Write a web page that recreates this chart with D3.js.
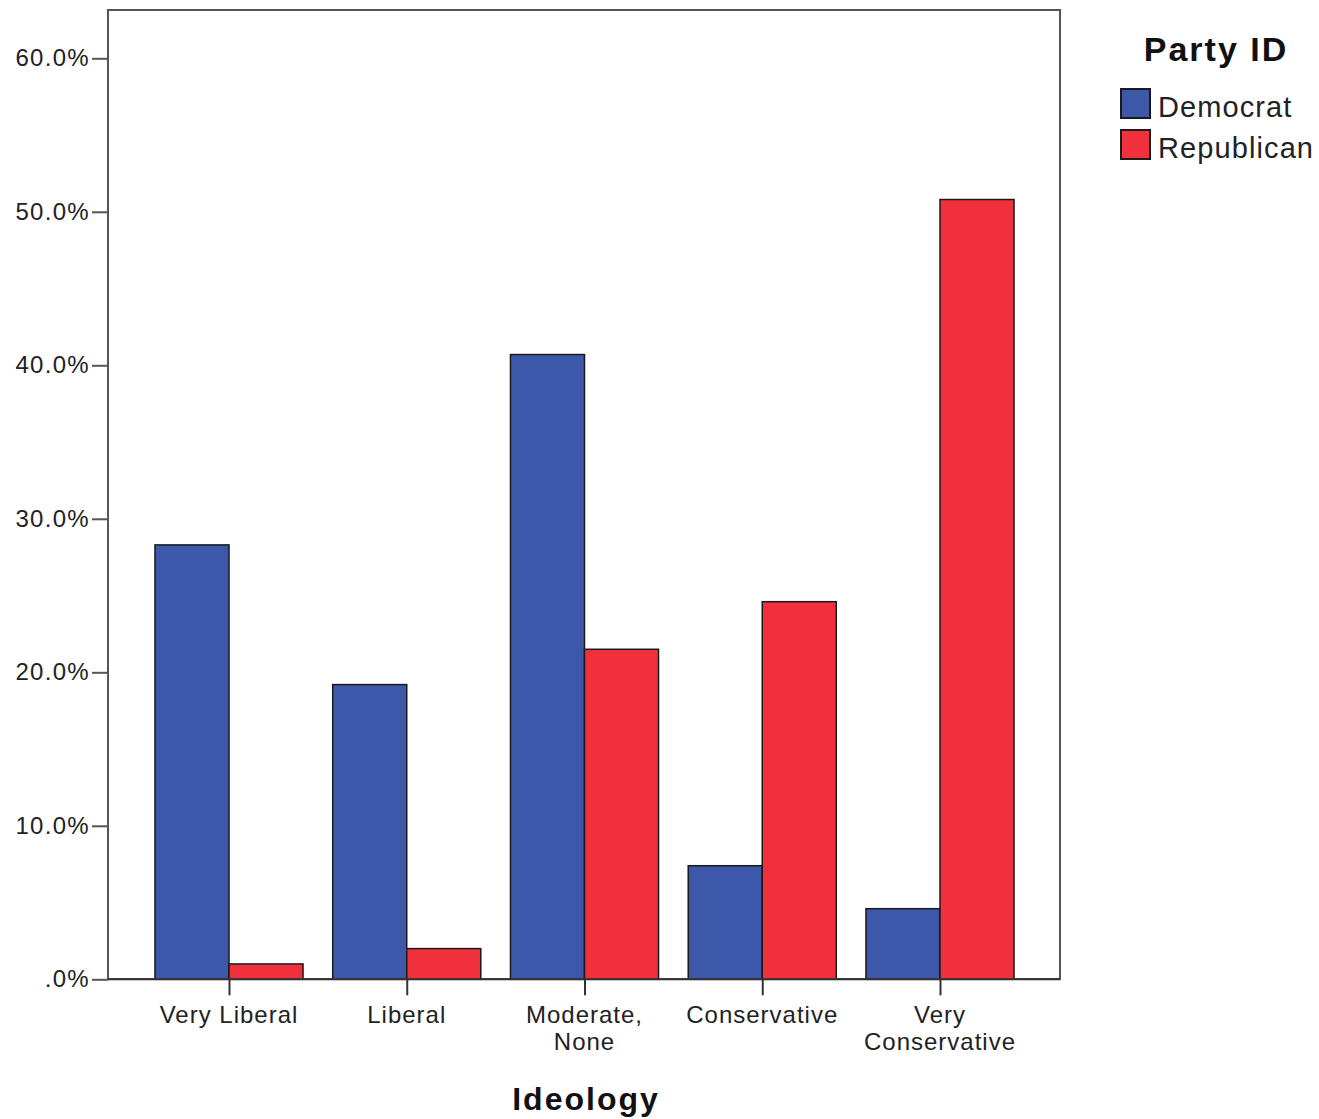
<!DOCTYPE html>
<html><head><meta charset="utf-8">
<script src="https://cdn.jsdelivr.net/npm/d3@7"></script>
<style>body{margin:0;background:#fff;} text{font-family:Arial,"Liberation Sans",sans-serif;}</style>
</head><body>
<svg id="chart" width="1319" height="1119"></svg>
<script>
const categories = [["Very Liberal"], ["Liberal"], ["Moderate,", "None"], ["Conservative"], ["Very", "Conservative"]];
const seriesNames = ["Democrat", "Republican"];
const democrat = [28.3, 19.2, 40.7, 7.4, 4.6];
const republican = [1.0, 2.0, 21.5, 24.6, 50.8];
const yTicks = [0, 10, 20, 30, 40, 50, 60];
const yTickLabels = [".0%", "10.0%", "20.0%", "30.0%", "40.0%", "50.0%", "60.0%"];
const colors = ["#3d58ab", "#f0313b"];

const svg = d3.select("#chart");
const frame = {left: 108, right: 1060, top: 10, bottom: 979};

const y = d3.scaleLinear().domain([0, 60]).range([979.3, 58.3]);
const step = 177.75;
const x = d3.scaleBand().domain(d3.range(categories.length))
  .range([229 - step/2, 940 + step/2]).paddingInner(0.167).paddingOuter(0.0835);
const xs = d3.scaleBand().domain([0, 1]).range([0, x.bandwidth()]);

// frame
svg.append("rect").attr("x", frame.left).attr("y", frame.top)
  .attr("width", frame.right - frame.left).attr("height", frame.bottom - frame.top)
  .attr("fill", "none").attr("stroke", "#555").attr("stroke-width", 2);

// bars
const data = [democrat, republican];
data.forEach((vals, s) => {
  svg.append("g").selectAll("rect").data(vals).join("rect")
    .attr("x", (d, i) => x(i) + xs(s))
    .attr("y", d => y(d))
    .attr("width", xs.bandwidth())
    .attr("height", d => y(0) - y(d))
    .attr("fill", colors[s]).attr("stroke", "#1a1a1a").attr("stroke-width", 1.5);
});

// baseline
svg.append("line").attr("x1", frame.left).attr("x2", frame.right)
  .attr("y1", y(0)).attr("y2", y(0)).attr("stroke", "#333").attr("stroke-width", 2);

// y axis
const yAxis = d3.axisLeft(y).tickValues(yTicks).tickFormat((d, i) => yTickLabels[i]).tickSize(16).tickPadding(2);
const gy = svg.append("g").attr("transform", `translate(${frame.left},0)`).call(yAxis);
gy.select(".domain").remove();
gy.selectAll(".tick line").attr("stroke", "#555").attr("stroke-width", 2);
gy.selectAll(".tick text").attr("font-size", 24).attr("letter-spacing", 1.3).attr("fill", "#222")
  .attr("font-family", "Arial, 'Liberation Sans', sans-serif");

// x axis
const xAxis = d3.axisBottom(d3.scaleOrdinal().domain(d3.range(5)).range(d3.range(5).map(i => x(i) + x.bandwidth()/2)))
  .tickSize(16).tickFormat("");
const gx = svg.append("g").attr("transform", `translate(0,${y(0)})`).call(xAxis);
gx.select(".domain").remove();
gx.selectAll(".tick line").attr("stroke", "#333").attr("stroke-width", 2);
categories.forEach((lines, i) => {
  const cx = x(i) + x.bandwidth()/2;
  const t = svg.append("text").attr("x", cx).attr("y", 1023)
    .attr("text-anchor", "middle").attr("font-size", 24).attr("letter-spacing", 1).attr("fill", "#222");
  lines.forEach((l, j) => t.append("tspan").attr("x", cx).attr("dy", j === 0 ? 0 : 27).text(l));
});

// x title
svg.append("text").attr("x", 586).attr("y", 1110).attr("text-anchor", "middle")
  .attr("font-size", 32).attr("font-weight", "bold").attr("fill", "#111").attr("letter-spacing", 2).text("Ideology");

// legend
svg.append("text").attr("x", 1216).attr("y", 61).attr("text-anchor", "middle")
  .attr("font-size", 34).attr("font-weight", "bold").attr("letter-spacing", 2).attr("fill", "#111").text("Party ID");
seriesNames.forEach((n, i) => {
  svg.append("rect").attr("x", 1121).attr("y", 89 + i * 41).attr("width", 29).attr("height", 29)
    .attr("fill", colors[i]).attr("stroke", "#1a1a1a").attr("stroke-width", 2);
  svg.append("text").attr("x", 1158).attr("y", 117 + i * 41).attr("font-size", 29)
    .attr("letter-spacing", 1.1).attr("fill", "#222").text(n);
});
</script>
</body></html>
